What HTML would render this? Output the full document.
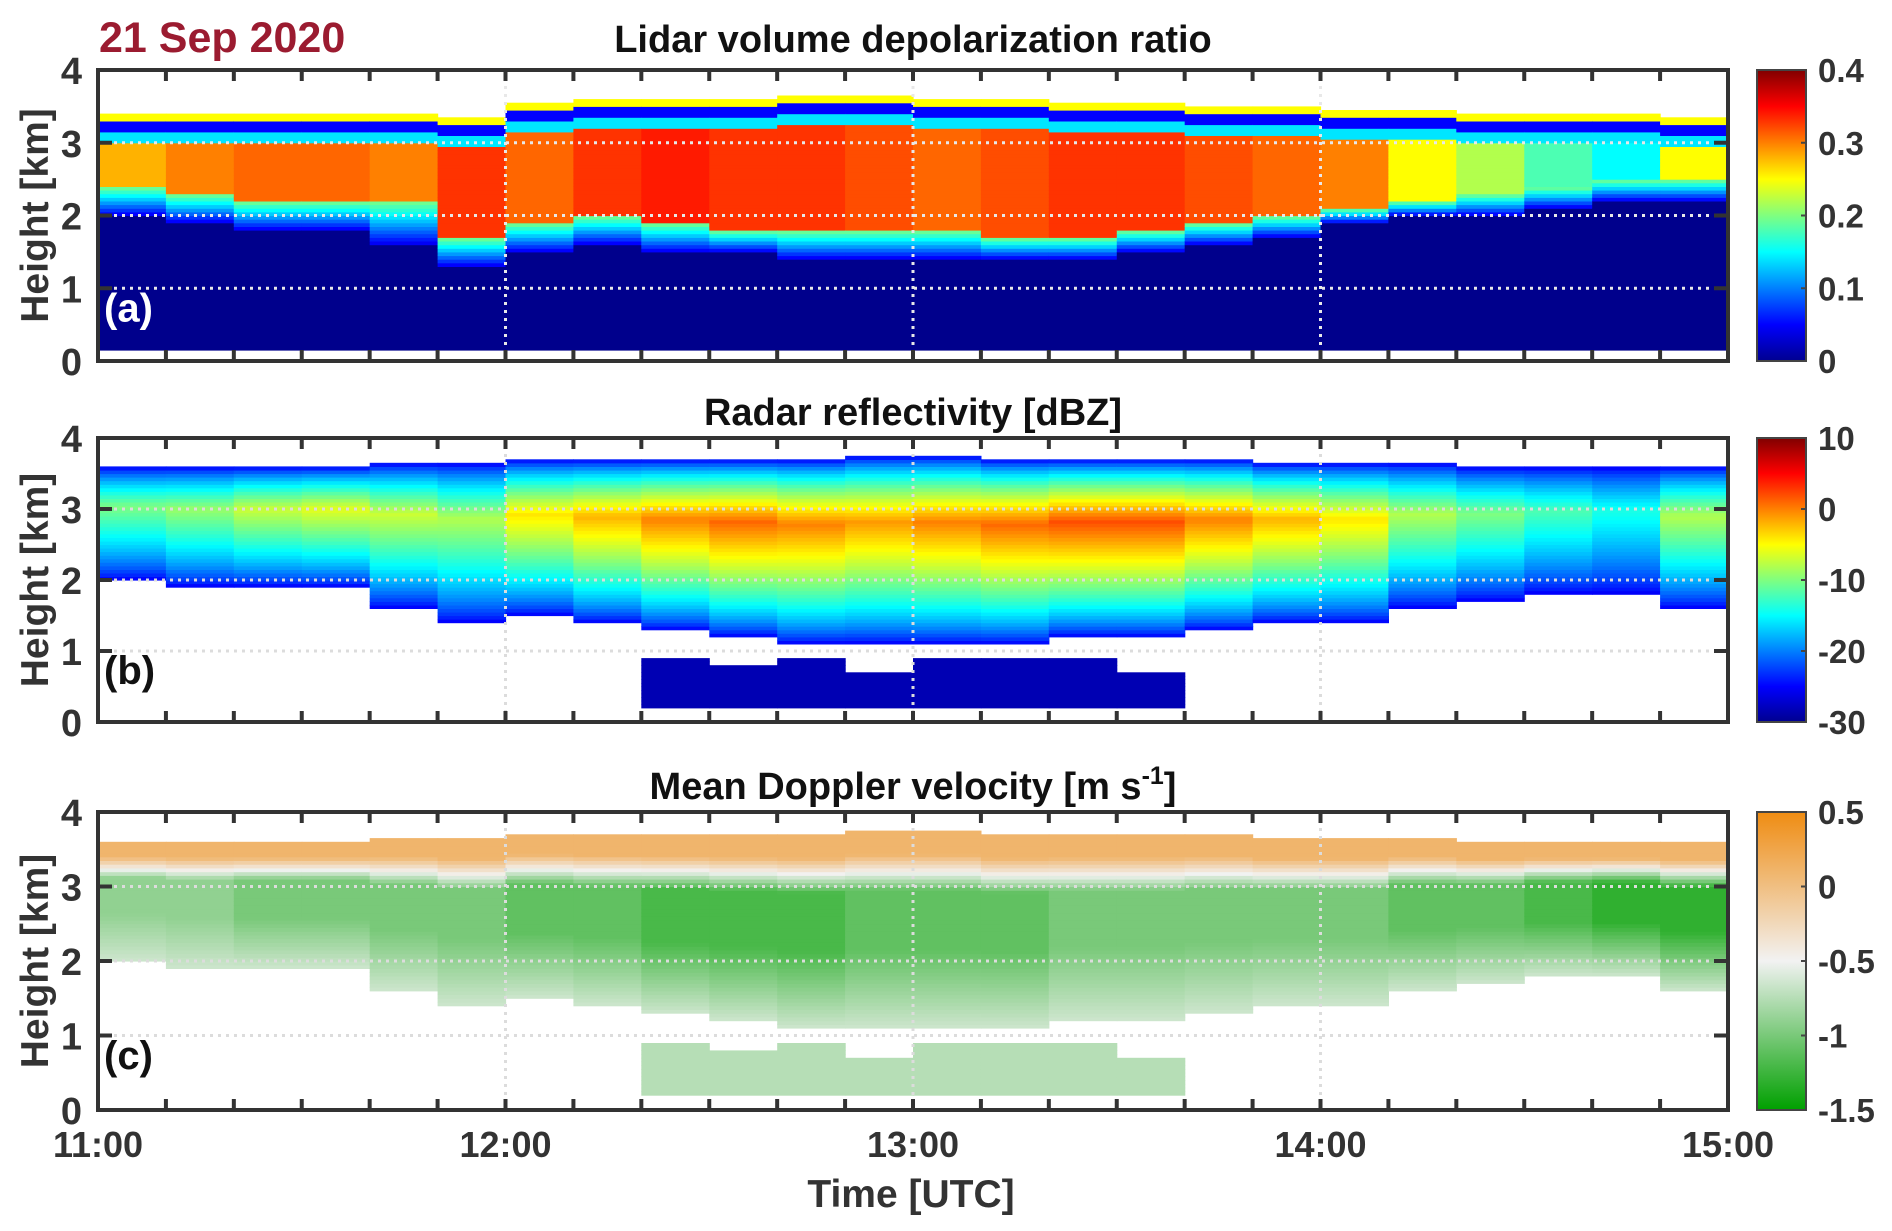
<!DOCTYPE html>
<html><head><meta charset="utf-8"><style>
html,body{margin:0;padding:0;background:#fff;}
svg{display:block;font-family:"Liberation Sans",sans-serif;font-weight:bold;}
</style></head><body>
<svg id="fig" width="1892" height="1231" viewBox="0 0 1892 1231" xmlns="http://www.w3.org/2000/svg">
<defs>
<linearGradient id="jetg" x1="0" y1="1" x2="0" y2="0">
<stop offset="0" stop-color="#00008f"/><stop offset="0.125" stop-color="#0000ff"/><stop offset="0.375" stop-color="#00ffff"/><stop offset="0.625" stop-color="#ffff00"/><stop offset="0.875" stop-color="#ff0000"/><stop offset="1" stop-color="#800000"/>
</linearGradient>
<linearGradient id="velg" x1="0" y1="1" x2="0" y2="0">
<stop offset="0" stop-color="#00a000"/><stop offset="0.5" stop-color="#f2f2f2"/><stop offset="1" stop-color="#ef8c12"/>
</linearGradient>
</defs>
<text x="99" y="52" font-size="43" fill="#9b1b30">21 Sep 2020</text>
<g id="layer"></g>
</svg>
<script>
// ---- data (10-minute bins from 11:00 to 15:00) ----
const hourTicks = ["11:00","12:00","13:00","14:00","15:00"];
const heightTicks = [0,1,2,3,4];
const topA = [3.4,3.4,3.4,3.4,3.4,3.35, 3.55,3.6,3.6,3.6,3.65,3.65, 3.6,3.6,3.55,3.55,3.5,3.5, 3.45,3.45,3.4,3.4,3.4,3.35];
const coreBaseA = [2.4,2.3,2.2,2.2,2.2,1.7, 1.9,2.0,1.9,1.8,1.8,1.8, 1.8,1.7,1.7,1.8,1.9,2.0, 2.1,2.2,2.3,2.4,2.5,2.5];
const blueBaseA = [2.0,1.9,1.8,1.8,1.6,1.3, 1.5,1.6,1.5,1.5,1.4,1.4, 1.4,1.4,1.4,1.5,1.6,1.7, 1.9,2.0,2.0,2.1,2.2,2.2];
const peakA = [0.28,0.30,0.31,0.31,0.30,0.33, 0.31,0.33,0.34,0.33,0.33,0.32, 0.31,0.32,0.33,0.33,0.32,0.31, 0.30,0.25,0.22,0.18,0.15,0.25];
const topB = [3.6,3.6,3.6,3.6,3.65,3.65, 3.7,3.7,3.7,3.7,3.7,3.75, 3.75,3.7,3.7,3.7,3.7,3.65, 3.65,3.65,3.6,3.6,3.6,3.6];
const baseB = [2.0,1.9,1.9,1.9,1.6,1.4, 1.5,1.4,1.3,1.2,1.1,1.1, 1.1,1.1,1.2,1.2,1.3,1.4, 1.4,1.6,1.7,1.8,1.8,1.6];
const peakB = [-10,-9,-7,-6,-7,-8, -4,-2,0,1,0,-1, 0,1,2,2,0,-2, -4,-8,-10,-12,-14,-8];
const lowTopB = [0,0,0,0,0,0, 0,0,0.9,0.8,0.9,0.7, 0.9,0.9,0.9,0.7,0,0, 0,0,0,0,0,0];
const peakC = [-0.9,-0.9,-1.0,-1.0,-1.0,-1.0, -1.1,-1.1,-1.2,-1.2,-1.2,-1.1, -1.1,-1.1,-1.0,-1.0,-1.0,-1.0, -1.0,-1.1,-1.1,-1.2,-1.3,-1.3];

const NS="http://www.w3.org/2000/svg";
const layer=document.getElementById('layer');
const X0=98, X1=1728;
const panels=[
 {id:'a',y0:70,y1:361,title:'Lidar volume depolarization ratio',ty:52,cb:['0.4','0.3','0.2','0.1','0'],lab:'(a)',labc:'#fff',grid:'#e8e8e8',grad:'jetg'},
 {id:'b',y0:438,y1:722,title:'Radar reflectivity [dBZ]',ty:425,cb:['10','0','-10','-20','-30'],lab:'(b)',labc:'#111',grid:'#dcdcdc',grad:'jetg'},
 {id:'c',y0:812,y1:1110,title:'Mean Doppler velocity [m s',ty:799,cb:['0.5','0','-0.5','-1','-1.5'],lab:'(c)',labc:'#111',grid:'#dcdcdc',grad:'velg'}
];
function xs(t){return X0+(X1-X0)*t/4;}
function ys(p,h){return p.y1-(p.y1-p.y0)*h/4;}
function el(tag,attrs,parent){const e=document.createElementNS(NS,tag);for(const k in attrs)e.setAttribute(k,attrs[k]);(parent||layer).appendChild(e);return e;}
function jet(v){v=Math.max(0,Math.min(1,v));
 const r=Math.max(0,Math.min(1,1.5-Math.abs(4*v-3))),g=Math.max(0,Math.min(1,1.5-Math.abs(4*v-2))),b=Math.max(0,Math.min(1,1.5-Math.abs(4*v-1)));
 return `rgb(${Math.round(r*255)},${Math.round(g*255)},${Math.round(b*255)})`;}
function velc(v){
 const t=Math.max(0,Math.min(1,(v+1.5)/2)); let c;
 if(t<0.5){const s=t/0.5;c=[0+242*s,160+82*s,0+242*s];}else{const s=(t-0.5)/0.5;c=[242-3*s,242-102*s,242-224*s];}
 return `rgb(${c.map(Math.round).join(',')})`;}

function valA(i,h){
 if(h<0.15||h>topA[i])return null;const top=topA[i];
 if(h>top-0.08)return 0.25; if(h>top-0.25)return 0.05; if(h>top-0.4)return 0.14;
 if(h>coreBaseA[i])return peakA[i];
 if(h>blueBaseA[i]){const s=(h-blueBaseA[i])/(coreBaseA[i]-blueBaseA[i]);return 0.04+0.16*s;}
 return 0.005;}
function valB(i,h){
 if(h<=topB[i]&&h>=baseB[i]){const t=(h-baseB[i])/(topB[i]-baseB[i]);const f=t<0.65?t/0.65:(1-t)/0.35;return -26+(peakB[i]+26)*Math.pow(Math.max(f,0),0.7);}
 if(h>=0.2&&h<=lowTopB[i])return -28;
 return null;}
function valC(i,h){
 if(h<=topB[i]&&h>=baseB[i]){const t=(h-baseB[i])/(topB[i]-baseB[i]);
  if(t>0.88)return 0.1; if(t>0.7){const s=(t-0.7)/0.18;return peakC[i]+(0.1-peakC[i])*s;}
  return -0.65+(peakC[i]+0.65)*Math.min(1,t/0.4);}
 if(h>=0.2&&h<=lowTopB[i])return -0.75;
 return null;}

const NC=24, dh=0.05;
panels.forEach((p,pi)=>{
 const g=el('g',{});
 
 
 for(let i=0;i<NC;i++){
  for(let k=0;k<80;k++){
   const h=k*dh+dh/2;
   const v=pi===0?valA(i,h):pi===1?valB(i,h):valC(i,h);
   if(v===null)continue;
   const col=pi===0?jet(v/0.4):pi===1?jet((v+30)/40):velc(v);
   const x=xs(i/6),w=xs((i+1)/6)-x,y=ys(p,(k+1)*dh),hh=ys(p,k*dh)-y;
   const r=el('rect',{x:x.toFixed(1),y:y.toFixed(1),width:(w+0.6).toFixed(1),height:(hh+0.6).toFixed(1),fill:col},g);
   
   
  }
 }
 [1,2,3].forEach(h=>{const l=el('line',{x1:X0,x2:X1,y1:ys(p,h),y2:ys(p,h),stroke:p.grid,'stroke-width':3,'stroke-dasharray':'3 5'});
  });
 [1,2,3].forEach(t=>{const l=el('line',{x1:xs(t),x2:xs(t),y1:p.y0,y2:p.y1,stroke:p.grid,'stroke-width':3,'stroke-dasharray':'3 5'});
  });
 for(let m=1;m<24;m++){const x=xs(m/6);
  el('line',{x1:x,x2:x,y1:p.y1,y2:p.y1-11,stroke:'#333','stroke-width':4});
  el('line',{x1:x,x2:x,y1:p.y0,y2:p.y0+11,stroke:'#333','stroke-width':4});}
 heightTicks.forEach(h=>{const y=ys(p,h);
  el('line',{x1:X0,x2:X0+14,y1:y,y2:y,stroke:'#333','stroke-width':4});
  el('line',{x1:X1,x2:X1-14,y1:y,y2:y,stroke:'#333','stroke-width':4});
  const t=el('text',{x:82,y:y+14,'font-size':38,'text-anchor':'end',fill:'#333'});t.textContent=h;
  });
 const box=el('rect',{x:X0,y:p.y0,width:X1-X0,height:p.y1-p.y0,fill:'none',stroke:'#333','stroke-width':4});
 
 const yl=el('text',{x:0,y:0,'font-size':39,'text-anchor':'middle',fill:'#333',transform:`translate(48,${(p.y0+p.y1)/2}) rotate(-90)`});
 yl.textContent='Height [km]';
 const tt=el('text',{x:(X0+X1)/2,y:p.ty,'font-size':38,'text-anchor':'middle',fill:'#111'});
 tt.textContent=p.title;
 if(pi===2){const s=el('tspan',{dy:-15,'font-size':25},tt);s.textContent='-1';const s2=el('tspan',{dy:15},tt);s2.textContent=']';}
 
 const pl=el('text',{x:104,y:ys(p,0.75)+15,'font-size':40,fill:p.labc});pl.textContent=p.lab;
 
 const cb=el('rect',{x:1757,y:p.y0,width:49,height:p.y1-p.y0,fill:`url(#${p.grad})`,stroke:'#444','stroke-width':2});
 
 p.cb.forEach((lab,j)=>{const y=p.y0+(p.y1-p.y0)*j/4;
  el('line',{x1:1806,x2:1801,y1:y,y2:y,stroke:'#444','stroke-width':2});
  const t=el('text',{x:1818,y:y+12,'font-size':33,fill:'#333'});t.textContent=lab;
  });
});
hourTicks.forEach((lab,j)=>{const t=el('text',{x:xs(j),y:1157,'font-size':36,'text-anchor':'middle',fill:'#333'});t.textContent=lab;
 });
const xt=el('text',{x:911,y:1207,'font-size':39,'text-anchor':'middle',fill:'#333'});xt.textContent='Time [UTC]';

</script>
</body></html>
